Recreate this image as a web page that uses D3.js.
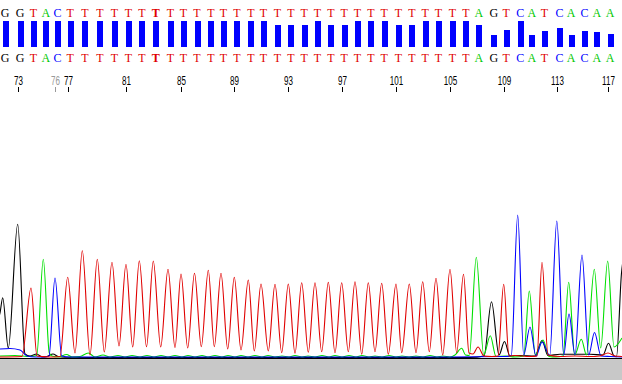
<!DOCTYPE html>
<html><head><meta charset="utf-8">
<script src="https://cdn.jsdelivr.net/npm/d3@7"></script>
<style>html,body{margin:0;padding:0;background:#fff;overflow:hidden}svg{display:block}</style>
</head><body>
<svg id="c" width="622" height="384"></svg>
<script>
// ---------- DATA ----------
const firstBase = 72;
const bases = ("GGTAC" + "TTTTTTTTTT" + "TTTTTTTTTT" + "TTTTTTTTTT" + "AGTCATCACAA").split("");
// peak locations (scan units) for bases 72..117
const peakLocs = [2.7, 17.7, 31, 43.3, 55, 67.7, 82.3, 97.3, 112, 126,
  139.3, 153.3, 168, 181, 194.5, 208.3, 221, 234.3, 248.3, 261,
  275, 288.3, 301.7, 315, 328.3, 341.7, 355, 368.3, 381.7, 396,
  409.3, 422.7, 436, 450, 463.3, 476.3, 491.3, 503.7, 517.7, 529.3,
  542, 557, 568.7, 582, 594.3, 607.7];
// quality values for bases 72..117
const quality = [52,52,52,52,52,52,52,52,52,52, 52,52,52,52,52,52,52,52,52,52,
  44,44,44,52,44,44,52,52,52,44, 44,52,52,52,52,44,24,34,52,24,
  32,38,24,32,30,26];
const tickLabels = [73,77,81,85,89,93,97,101,105,109,113,117];
const markedTicks = [76];
const boldBases = [83];

// traces: [scan, signal]
const traceG = [[-2,380],[0,450],[2.7,603],[8.3,100],[17.7,1337],[25,40],[30,20],[36.7,40],[42,10],[47,15],[53,40],[58,15],[65,8],
  [100,5],[200,5],[300,5],[400,5],[470,5],[484,20],[491.5,563],[499,30],[504.5,165],[510,20],[520,25],[535,20],[542,175],[548,25],
  [560,37],[590,37],[603,30],[608.5,147],[614,20],[616.5,13],[621.5,850],[626,1100]];
const traceA = [[0,20],[15,25],[30,15],[36.7,25],[43.3,987],[49.3,50],[52,20],[58,10],[66.7,35],[72,10],[80,15],[88.3,50],[95,10],
  [103,30],[110,10],[118,25],[125,10],[132,25],[140,10],[147,25],[154,10],[161,25],[168,10],[175,25],[182,10],[188,25],[195,10],
  [202,25],[208,10],[215,25],[222,10],[228,25],[235,10],[241,25],[248,10],[255,25],[262,10],[268,25],[275,10],[282,20],[289,10],
  [295,25],[302,10],[308,20],[315,10],[322,25],[329,10],[335,25],[342,10],[349,25],[356,10],[362,25],[369,10],[375,20],[382,10],
  [389,25],[396,10],[402,20],[409,10],[416,20],[423,10],[430,25],[437,10],[443,20],[450,10],[455,30],[461.7,97],[465.5,30],
  [469.3,25],[476.3,1007],[483.7,30],[490.3,223],[496,15],[505,20],[515,10],[523.7,20],[529.3,670],[535.3,30],[543,180],[549,15],
  [556,10],[563,20],[568.7,757],[574.7,30],[581.3,187],[586.5,30],[594.3,887],[600.7,100],[607.7,970],[614,110],[622,200]];
const traceC = [[0,90],[10,95],[20,80],[27,20],[35,10],[45,10],[49,20],[55,800],[61.7,20],[70,10],[150,10],[250,10],[350,10],
  [450,10],[505,15],[511.3,25],[517.7,1430],[523.7,30],[530,310],[536,20],[542,160],[549.7,25],[556.8,1370],[563.7,30],[569,440],
  [575,30],[582,1030],[588.7,30],[594.5,255],[601,20],[610,15],[622,10]];
const traceT = [[0,10],[22,15],[31,700],[37,20],[42,15],[50,10],[60,15],[67.7,807],[75,50],[82.3,1073],[90,30],[97.3,987],
  [104.3,60],[112,957],[119,120],[126,937],[132.7,110],[139.3,973],[146.5,113],[153.3,970],[160.7,110],[168,887],[175,105],
  [181,840],[187.7,100],[194.5,847],[201.3,113],[208.3,877],[214.3,113],[221,847],[227.7,90],[234.3,807],[241,80],[248.3,780],
  [254.3,70],[261,740],[268.3,70],[275,737],[281.7,53],[288.3,740],[295,47],[301.7,753],[308.3,57],[315,753],[321.7,63],
  [328.3,757],[335,53],[341.7,753],[348.3,63],[355,763],[361.7,37],[368.3,753],[375,63],[381.7,747],[388.3,37],[396,740],
  [401.7,53],[409.3,740],[416,53],[422.7,763],[429.3,63],[436,797],[442.7,30],[450,887],[456.7,53],[463.5,837],[469,50],[473,40],
  [478,110],[484,20],[492,15],[498,20],[503.7,737],[509,20],[515,25],[530,15],[537,20],[542,957],[548,30],[560,15],[575,20],
  [590,15],[600,20],[608,50],[615,20],[622,15]];

// ---------- DRAW ----------
const W = 622, H = 384;
const svg = d3.select("#c");
const colors = {G:"#000000", A:"#00c800", C:"#0000ff", T:"#e00000"};
const traceColors = {G:"#000000", A:"#00e000", C:"#0000ff", T:"#e00000"};

const x = d3.scaleLinear().domain([0, 622]).range([0, W]);
const y = d3.scaleLinear().domain([0, 1500]).range([358, 208]);
const q = d3.scaleLinear().domain([0, 52]).range([47, 21]);

svg.append("rect").attr("width", W).attr("height", H).attr("fill", "#fff");

const baseNum = i => firstBase + i;

// top letters and bottom letters
[17, 62].forEach(by => {
  svg.append("g").selectAll("text").data(bases).join("text")
    .attr("x", (d, i) => x(peakLocs[i]) + 2.5)
    .attr("y", by)
    .attr("text-anchor", "middle")
    .attr("font-family", "'Liberation Serif', 'DejaVu Serif', serif")
    .attr("font-size", 12)
    .attr("font-weight", (d, i) => boldBases.includes(baseNum(i)) ? "bold" : "normal")
    .attr("fill", d => colors[d])
    .text(d => d);
});

// quality bars
svg.append("g").selectAll("rect").data(quality).join("rect")
  .attr("x", (d, i) => Math.round(x(peakLocs[i])))
  .attr("y", d => q(d))
  .attr("width", 6)
  .attr("height", d => q(0) - q(d))
  .attr("fill", "#0000ff")
  .attr("shape-rendering", "crispEdges");

// position ticks
const tickData = tickLabels.concat(markedTicks).map(n => ({n, marked: markedTicks.includes(n)}));
const tg = svg.append("g").selectAll("g").data(tickData).join("g")
  .attr("transform", d => `translate(${Math.round(x(peakLocs[d.n - firstBase])) + 0.5},0)`);
tg.append("line").attr("y1", 87).attr("y2", 92)
  .attr("stroke", d => d.marked ? "#999" : "#000").attr("shape-rendering", "crispEdges");
tg.append("text")
  .attr("transform", "translate(0,85) scale(0.62,1)")
  .attr("text-anchor", "middle")
  .attr("font-family", "'Liberation Sans', Arial, sans-serif")
  .attr("font-size", 13)
  .attr("fill", d => d.marked ? "#999" : "#000")
  .text(d => d.n);

// trace area
svg.append("defs").append("clipPath").attr("id", "clip")
  .append("rect").attr("x", 0).attr("y", 200).attr("width", W).attr("height", 159);

svg.append("rect").attr("x", 0).attr("y", 359).attr("width", W).attr("height", 21).attr("fill", "#c8c8c8");

const line = d3.line().x(d => x(d[0])).y(d => y(d[1])).curve(d3.curveMonotoneX);
const tracesG = svg.append("g").attr("clip-path", "url(#clip)");
tracesG.append("line").attr("x1", 0).attr("x2", W).attr("y1", 358.5).attr("y2", 358.5)
  .attr("stroke", "#000").attr("stroke-width", 1);
[["G", traceG], ["A", traceA], ["C", traceC], ["T", traceT]].forEach(([b, data]) => {
  tracesG.append("path").datum(data)
    .attr("d", line)
    .attr("fill", "none")
    .attr("stroke", traceColors[b])
    .attr("stroke-width", 1.1);
});
</script>
</body></html>
